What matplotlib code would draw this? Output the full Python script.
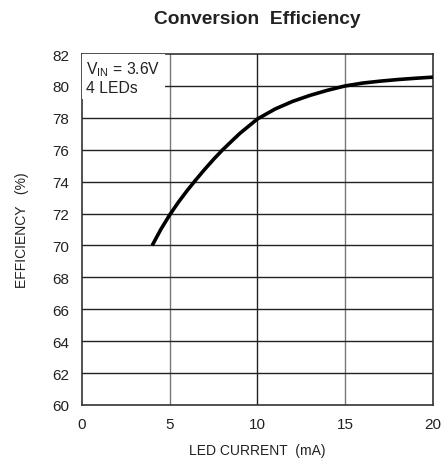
import matplotlib
matplotlib.use('Agg')
import matplotlib.pyplot as plt

plt.rcParams['font.family'] = ['Liberation Sans', 'DejaVu Sans']

# valores
corrente = [4, 4.5, 5, 5.5, 6, 6.5, 7, 7.5, 8, 9, 10, 11, 12, 13, 14, 15, 16, 17, 18, 19, 20]
eficiencia = [70.0, 71.02, 71.92, 72.72, 73.45, 74.13, 74.78, 75.40, 75.98, 77.03, 77.93,
              78.55, 79.03, 79.41, 79.73, 80.0, 80.18, 80.3, 80.4, 80.48, 80.55]

x_ticks = [0, 5, 10, 15, 20]
y_ticks = [60, 62, 64, 66, 68, 70, 72, 74, 76, 78, 80, 82]

fig = plt.figure(figsize=(4.47, 4.60), dpi=100)
ax = fig.add_axes([0.1834, 0.1174, 0.7852, 0.763])

ax.plot(corrente, eficiencia, color='black', linewidth=2.6, solid_capstyle='butt',
        solid_joinstyle='round', zorder=3)

ax.set_xlim(0, 20)
ax.set_ylim(60, 82)
ax.set_xticks(x_ticks)
ax.set_yticks(y_ticks)
ax.tick_params(length=0, labelsize=11, colors='#222222')
ax.tick_params(axis='y', pad=9)
ax.tick_params(axis='x', pad=9)

# grade
for x in [5, 15]:
    ax.axvline(x, color='#777777', linewidth=1.0, zorder=1)
ax.axvline(10, color='#222222', linewidth=1.0, zorder=1)
for y in y_ticks[1:-1]:
    ax.axhline(y, color='#222222', linewidth=1.0, zorder=1)

for s in ax.spines.values():
    s.set_color('#333333')
    s.set_linewidth(1.2)

ax.set_title('Conversion  Efficiency', fontweight='bold', fontsize=13.8, pad=22, color='#222222')
ax.set_xlabel('LED CURRENT  (mA)', fontsize=10, labelpad=8, color='#222222')
ax.set_ylabel('EFFICIENCY   (%)', fontsize=10, labelpad=17, color='#222222')

ax.text(0.25, 81.65, 'V$_{\\mathregular{IN}}$ = 3.6V\n4 LEDs', fontsize=11.3, va='top', ha='left',
        linespacing=1.15, zorder=4, color='#222222',
        bbox=dict(facecolor='white', edgecolor='none', pad=3))

fig.savefig('out.png', dpi=100)
